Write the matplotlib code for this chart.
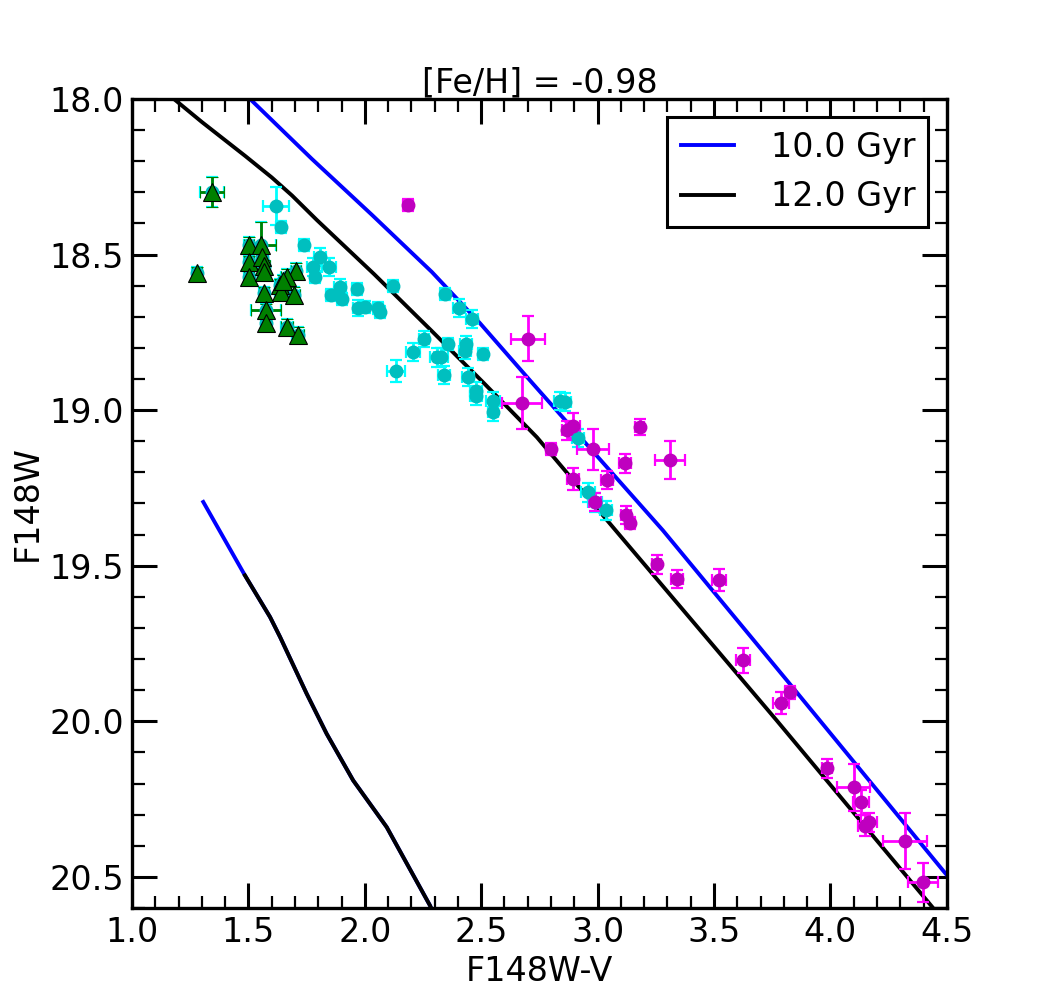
import matplotlib
matplotlib.use('Agg')
import matplotlib.pyplot as plt
from matplotlib.ticker import MultipleLocator
import numpy as np

# isochrones (RGB part)
iso10_x = [1.45, 1.507, 1.773, 2.030, 2.288, 2.494, 2.709, 3.280, 3.838, 4.491, 4.60]
iso10_y = [17.96, 18.0, 18.193, 18.372, 18.556, 18.72, 18.904, 19.386, 19.891, 20.486, 20.58]
iso12_x = [1.10, 1.18, 1.30, 1.486, 1.600, 1.687, 1.794, 2.040, 2.288, 2.510, 2.739, 3.095, 3.769, 4.439, 4.52]
iso12_y = [17.95, 18.0, 18.074, 18.183, 18.252, 18.31, 18.389, 18.563, 18.746, 18.912, 19.087, 19.402, 19.997, 20.598, 20.67]

# horizontal branch part
hb10_x = [1.306, 1.485, 1.593, 1.636, 1.750, 1.836, 1.950, 2.094, 2.280, 2.30]
hb10_y = [19.295, 19.531, 19.665, 19.729, 19.911, 20.040, 20.190, 20.340, 20.592, 20.625]
hb12_x = [1.485, 1.593, 1.636, 1.750, 1.836, 1.950, 2.094, 2.280, 2.30]
hb12_y = [19.531, 19.665, 19.729, 19.911, 20.040, 20.190, 20.340, 20.592, 20.625]

# cyan stars
cx = [1.618, 1.640, 1.739, 1.808, 1.778, 1.846, 1.786, 1.893, 1.855, 1.902,
      1.966, 1.970, 2.000, 2.056, 2.065, 2.121, 2.344, 2.404, 2.460, 2.254,
      2.207, 2.134, 2.310, 2.327, 2.357, 2.434, 2.430, 2.507, 2.340, 2.443,
      2.477, 2.477, 2.550, 2.550, 2.838, 2.859, 2.915, 2.958, 2.988, 3.035]
cy = [18.344, 18.412, 18.470, 18.508, 18.540, 18.540, 18.572, 18.605, 18.630, 18.643,
      18.611, 18.672, 18.669, 18.672, 18.685, 18.601, 18.627, 18.672, 18.707, 18.772,
      18.813, 18.875, 18.830, 18.830, 18.788, 18.788, 18.810, 18.820, 18.887, 18.894,
      18.939, 18.955, 18.971, 19.006, 18.971, 18.974, 19.090, 19.264, 19.296, 19.322]
cxe = [0.055, 0.02, 0.02, 0.025, 0.025, 0.03, 0.02, 0.025, 0.02, 0.02,
       0.02, 0.02, 0.02, 0.02, 0.02, 0.02, 0.02, 0.025, 0.025, 0.02,
       0.03, 0.04, 0.03, 0.03, 0.02, 0.025, 0.025, 0.02, 0.025, 0.025,
       0.025, 0.025, 0.03, 0.02, 0.025, 0.025, 0.025, 0.03, 0.03, 0.025]
cye = [0.06, 0.02, 0.02, 0.03, 0.03, 0.03, 0.02, 0.025, 0.02, 0.02,
       0.02, 0.025, 0.02, 0.02, 0.02, 0.02, 0.02, 0.03, 0.03, 0.025,
       0.03, 0.035, 0.03, 0.03, 0.02, 0.025, 0.025, 0.02, 0.03, 0.03,
       0.03, 0.03, 0.03, 0.03, 0.03, 0.03, 0.03, 0.03, 0.03, 0.03]

# magenta stars
mx = [2.185, 2.70, 2.675, 3.18, 2.87, 2.895, 2.80, 2.98, 3.117, 3.31,
      2.893, 3.04, 2.99, 3.122, 3.139, 3.254, 3.34, 3.52, 3.624, 3.826,
      3.787, 3.985, 4.10, 4.13, 4.165, 4.148, 4.32, 4.397]
my = [18.34, 18.77, 18.978, 19.055, 19.065, 19.05, 19.125, 19.125, 19.171, 19.16,
      19.222, 19.225, 19.295, 19.337, 19.363, 19.495, 19.543, 19.547, 19.804, 19.907,
      19.942, 20.151, 20.212, 20.26, 20.325, 20.335, 20.386, 20.518]
mxe = [0.02, 0.072, 0.086, 0.02, 0.025, 0.03, 0.02, 0.067, 0.025, 0.064,
       0.025, 0.025, 0.025, 0.02, 0.02, 0.02, 0.025, 0.03, 0.03, 0.02,
       0.035, 0.02, 0.07, 0.035, 0.035, 0.03, 0.093, 0.064]
mye = [0.02, 0.073, 0.083, 0.025, 0.03, 0.04, 0.02, 0.066, 0.03, 0.062,
       0.035, 0.03, 0.03, 0.03, 0.02, 0.03, 0.03, 0.035, 0.04, 0.02,
       0.035, 0.03, 0.075, 0.04, 0.03, 0.035, 0.09, 0.064]

# green triangles
gx = [1.344, 1.279, 1.502, 1.554, 1.502, 1.558, 1.567, 1.502, 1.567, 1.704,
      1.666, 1.636, 1.640, 1.567, 1.696, 1.575, 1.575, 1.666, 1.713, 1.650]
gy = [18.299, 18.559, 18.469, 18.469, 18.524, 18.508, 18.537, 18.572, 18.556, 18.553,
      18.572, 18.598, 18.621, 18.624, 18.630, 18.678, 18.720, 18.733, 18.759, 18.585]
gxe = [0.05, 0.02, 0.02, 0.065, 0.02, 0.02, 0.025, 0.02, 0.025, 0.02,
       0.025, 0.02, 0.025, 0.02, 0.025, 0.065, 0.02, 0.025, 0.025, 0.02]
gye = [0.048, 0.02, 0.025, 0.075, 0.02, 0.025, 0.02, 0.02, 0.025, 0.025,
       0.025, 0.02, 0.02, 0.02, 0.025, 0.02, 0.025, 0.025, 0.025, 0.02]

fs = 24
fig = plt.figure(figsize=(10.52, 10.08), dpi=100)
ax = fig.add_axes([0.1255, 0.0992, 0.7745, 0.8026])

l10, = ax.plot(iso10_x, iso10_y, color='b', lw=2.8, label='10.0 Gyr')
ax.plot(hb10_x, hb10_y, color='b', lw=2.8)
l12, = ax.plot(iso12_x, iso12_y, color='k', lw=2.8, label='12.0 Gyr')
ax.plot(hb12_x, hb12_y, color='k', lw=2.8)

eb = dict(capsize=4, elinewidth=2, capthick=1.6)
ax.errorbar(cx, cy, xerr=cxe, yerr=cye, fmt='o', color='c', ecolor='cyan',
            ms=9, mec='c', **eb)
ax.errorbar(gx, gy, xerr=gxe, yerr=gye, fmt='o', color='c', ecolor='cyan',
            ms=9, mec='c', **eb)
ax.errorbar(mx, my, xerr=mxe, yerr=mye, fmt='o', color='m', ecolor='#ff00ff',
            ms=9, mec='m', **eb)
ax.errorbar(gx, gy, xerr=gxe, yerr=gye, fmt='^', color='g', ecolor='g',
            ms=12.5, mec='k', mew=0.8, **eb)

ax.set_xlim(1.0, 4.5)
ax.set_ylim(20.6, 18.0)
ax.xaxis.set_major_locator(MultipleLocator(0.5))
ax.xaxis.set_minor_locator(MultipleLocator(0.1))
ax.yaxis.set_major_locator(MultipleLocator(0.5))
ax.yaxis.set_minor_locator(MultipleLocator(0.1))
ax.tick_params(which='both', direction='in', top=True, right=True, labelsize=fs)
ax.tick_params(which='major', length=18, width=2.2, pad=6)
ax.tick_params(which='minor', length=9, width=1.6)
for s in ax.spines.values():
    s.set_linewidth(2.4)

ax.set_xlabel('F148W-V', fontsize=fs, labelpad=4)
ax.set_ylabel('F148W', fontsize=fs, labelpad=4)
ax.set_title('[Fe/H] = -0.98', fontsize=fs, pad=0)

leg = ax.legend(handles=[l10, l12], loc='upper right', fontsize=fs, fancybox=False,
                handlelength=1.6, handletextpad=1.1, labelspacing=0.5,
                borderaxespad=0.55, framealpha=1)
leg.get_frame().set_edgecolor('k')
leg.get_frame().set_linewidth(2.2)

fig.savefig('out.png', dpi=100)
